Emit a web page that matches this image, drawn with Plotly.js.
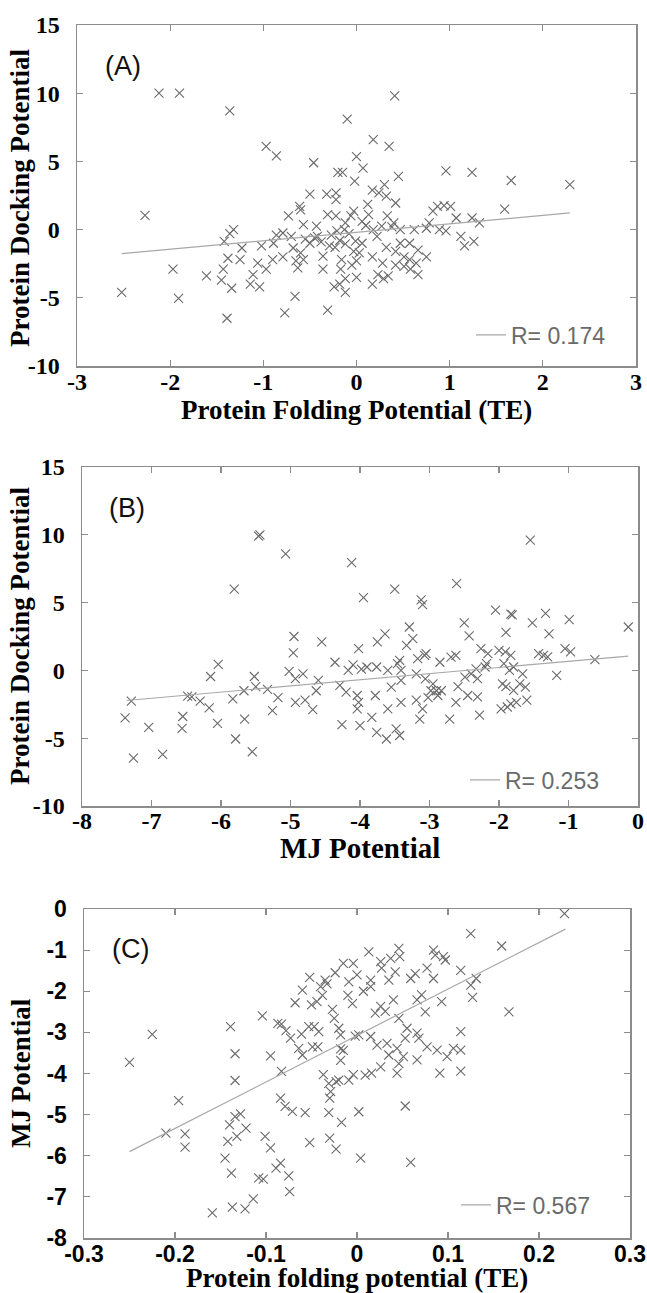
<!DOCTYPE html>
<html>
<head>
<meta charset="utf-8">
<script src="https://cdn.plot.ly/plotly-3.0.1.min.js"></script>
<style>
  html, body { margin: 0; padding: 0; background: #fff; }
  #chart { width: 647px; height: 1293px; }
</style>
</head>
<body>
<div id="chart"></div>
<script>
const aX = [-2.12,-1.90,-1.36,-0.97,-0.86,-0.46,-2.27,-2.52,-1.97,-1.91,-1.39,-1.61,-1.45,-1.43,-1.34,-1.42,-1.32,-1.36,-1.38,-1.23,-1.25,-1.14,-1.04,-1.11,-1.06,-1.02,-0.97,-0.90,-0.89,-0.86,-0.79,-0.73,-0.79,-0.68,-0.66,-0.77,-0.61,-0.60,-0.57,-0.50,-0.63,-0.57,-0.60,-0.50,-0.43,-0.42,-0.36,-0.31,-0.32,-0.31,-0.29,-0.24,-0.22,-0.20,-0.36,
  0.41,-0.10,0.18,0.35,0.00,0.07,-0.15,-0.02,0.45,0.96,1.24,1.66,2.29,1.59,0.17,0.24,0.30,0.32,-0.22,0.12,0.42,0.87,0.94,1.01,0.82,0.78,0.89,0.96,1.07,1.24,1.32,1.12,1.16,1.26,0.62,0.75,0.57,0.66,0.75,0.64,0.57,0.51,0.51,0.58,0.66,0.42,0.34,0.29,0.17,0.28,0.17,0.32,0.42,0.47,0.47,0.40,0.33,0.27,0.18,0.22,0.13,0.06,0.06,0.03,0.00,-0.03,-0.01,-0.12,-0.16,-0.17,-0.12,-0.12,0.00,-0.18,-0.22,-0.12,-0.06,-0.03,-0.21,-0.13,-0.23,
  -0.45,-0.38,-0.27,-0.18,-0.08,0.10,0.38,-0.55,-0.70,-0.65,-0.05,0.23];
const aY = [10.0,10.0,8.7,6.1,5.4,4.9,1.05,-4.6,-2.9,-5.05,-6.5,-3.4,-3.7,-2.9,-4.3,-0.86,0.0,-0.3,-2.1,-1.35,-2.2,-4.0,-4.2,-3.3,-2.45,-1.2,-2.9,-2.2,-1.0,-0.4,-0.25,1.0,-2.0,-1.35,-4.9,-6.1,1.7,1.45,0.37,2.6,-2.8,-2.2,-1.7,-1.0,0.25,-0.5,-2.9,-5.9,2.6,1.1,-1.2,-4.2,2.7,4.2,-1.95,
  9.8,8.1,6.6,6.1,5.35,4.5,4.2,3.55,3.9,4.3,4.2,3.6,3.3,1.5,2.9,2.7,3.3,2.45,2.2,1.85,1.95,1.7,1.75,1.7,1.35,0.5,0.0,-0.1,0.85,0.85,0.5,-0.5,-1.2,-0.86,0.0,0.1,-1.0,-1.5,-2.0,-2.45,-2.2,-2.0,-2.7,-2.9,-3.3,-2.6,-3.4,-3.6,-4.0,-2.45,-2.0,-1.3,-1.6,-1.0,0.0,0.5,1.0,0.25,0.0,-0.5,1.1,0.6,-1.0,-1.7,-2.3,-1.6,-0.85,-1.05,-2.2,-2.9,-3.6,-4.6,-3.5,-4.0,1.0,0.5,1.0,1.35,-0.1,0.0,-1.3,
  -0.6,-0.9,-0.4,-0.8,-0.3,0.3,0.2,-0.7,-0.5,-2.3,-2.6,-3.3];
const aFitX = [-2.52, 2.29];
const aFitY = [-1.76, 1.22];
const aLabel = 'R= 0.174';

const bX = [-5.46,-5.44,-5.07,-5.81,-4.12,-4.95,-4.96,-4.55,-4.36,-6.04,-6.15,-5.02,-4.93,-4.82,-5.52,-5.50,-5.67,-5.33,-5.18,-5.26,-4.93,-4.79,-4.68,-4.60,-4.63,-5.83,-6.05,-6.17,-6.30,-6.48,-6.42,-6.55,-6.56,-5.66,-5.79,-5.55,-6.84,-7.04,-7.38,-7.29,-7.26,-4.26,-4.29,-4.20,-4.17,-4.10,
  -1.55,-2.61,-3.50,-3.95,-3.12,-3.10,-2.05,-1.83,-1.81,-1.33,-0.99,-0.14,-2.50,-1.52,-1.90,-1.28,-2.43,-3.29,-3.24,-3.64,-3.75,-3.33,-4.02,-3.05,-3.07,-3.17,-2.69,-2.62,-2.85,-2.26,-2.16,-2.00,-1.91,-1.83,-1.43,-1.36,-1.30,-1.05,-0.97,-0.62,-1.17,-3.43,-3.46,-3.60,-3.76,-3.90,-3.98,-3.41,-3.19,-3.41,-3.06,-2.95,-2.90,-2.83,-2.88,-2.98,-3.02,-3.19,-3.10,-3.14,-3.41,-3.55,-3.60,-3.83,-4.00,-3.76,-3.62,-3.48,-3.43,-3.78,-4.04,-4.02,-4.04,-2.71,-2.62,-2.59,-2.49,-2.33,-2.40,-2.31,-2.20,-2.18,-2.45,-2.31,-2.28,-1.95,-1.90,-1.97,-1.88,-1.83,-1.75,-1.79,-1.70,-1.66,-1.62,-1.60,-1.79,-1.85,-1.93];
const bY = [9.9,10.0,8.6,6.0,7.95,2.5,1.3,2.1,0.6,0.45,-0.45,-0.07,-0.6,-0.25,-0.45,-1.2,-1.5,-1.4,-2.0,-2.96,-2.35,-2.2,-2.9,-0.74,-1.5,-2.1,-3.9,-2.76,-2.27,-1.9,-1.95,-3.4,-4.27,-3.6,-5.06,-6.0,-6.2,-4.2,-3.5,-2.27,-6.47,-4.0,-1.1,-1.6,0.0,0.4,
  9.6,6.4,6.0,5.36,5.2,4.85,4.44,4.15,4.1,4.2,3.75,3.2,3.5,3.5,2.8,2.7,2.55,3.2,2.35,2.7,2.1,1.85,1.6,1.23,1.1,0.87,0.98,1.1,0.6,1.6,1.23,1.48,1.36,1.1,1.23,1.1,1.0,1.6,1.36,0.8,-0.37,0.74,0.5,0.0,0.25,0.25,0.1,0.0,-0.25,-0.74,-0.62,-1.0,-1.5,-1.5,-1.85,-1.5,-2.0,-2.2,-2.84,-3.6,-2.35,-1.23,-2.84,-3.46,-4.07,-4.57,-5.06,-4.32,-4.8,-1.85,-1.85,-2.35,-2.84,-3.6,-2.35,-1.2,-0.49,0.12,-0.25,-0.6,0.25,0.5,-1.85,-1.95,-3.3,-1.0,-1.2,-2.84,-2.7,-2.47,-2.35,-1.48,-1.0,-0.25,-1.23,-2.2,0.25,0.0,0.5];
const bFitX = [-7.36, -0.14];
const bFitY = [-2.22, 1.06];
const bLabel = 'R= 0.253';

const cX = [-0.250,-0.225,-0.196,-0.210,-0.189,-0.189,-0.159,-0.137,-0.123,-0.114,-0.145,-0.138,-0.142,-0.140,-0.134,-0.128,-0.132,-0.122,-0.139,-0.134,-0.134,-0.104,-0.095,-0.083,-0.101,-0.095,-0.108,-0.103,-0.089,-0.084,-0.075,-0.074,-0.084,-0.079,-0.071,-0.057,-0.052,-0.031,-0.030,-0.023,-0.017,-0.030,-0.029,-0.087,-0.083,-0.078,-0.073,-0.061,-0.068,-0.060,-0.052,-0.050,-0.044,-0.035,-0.033,-0.040,-0.024,-0.015,-0.004,-0.009,-0.027,-0.025,-0.053,-0.047,-0.042,-0.049,-0.043,-0.064,-0.060,-0.018,-0.002,-0.018,-0.015,-0.018,-0.020,-0.023,-0.009,-0.004,-0.037,-0.031,0.002,0.004,
  0.228,0.125,0.159,0.167,0.127,0.125,0.131,0.114,0.114,0.114,0.114,0.106,0.099,0.088,0.091,0.093,0.084,0.086,0.095,0.097,0.077,0.084,0.071,0.075,0.066,0.064,0.059,0.046,0.047,0.037,0.026,0.013,0.027,0.042,0.035,0.015,0.015,0.007,0.040,0.026,0.020,0.031,0.046,0.055,0.066,0.068,0.077,0.053,0.044,0.033,0.035,0.022,0.015,0.002,0.051,0.046,0.044,0.026,0.016,0.009,0.066,0.053,0.059,
  -0.010,-0.020,-0.005,0.000,-0.038];
const cY = [-3.73,-3.05,-4.66,-5.45,-5.47,-5.79,-7.39,-7.25,-7.29,-7.05,-6.06,-6.42,-5.65,-5.25,-5.05,-4.98,-5.53,-5.33,-2.86,-3.52,-4.17,-2.6,-3.57,-3.95,-5.53,-5.81,-6.54,-6.57,-6.3,-6.18,-6.49,-6.87,-4.6,-4.8,-4.92,-4.95,-5.68,-4.95,-5.57,-5.84,-5.19,-4.6,-4.44,-2.78,-2.8,-2.96,-3.14,-3.04,-2.28,-1.97,-1.66,-2.33,-2.25,-1.73,-1.82,-1.89,-1.55,-1.32,-1.32,-1.77,-2.44,-2.66,-2.86,-2.86,-2.98,-3.35,-3.35,-3.39,-3.55,-3.06,-3.09,-3.4,-3.44,-3.68,-4.16,-4.2,-4.16,-4.03,-4.03,-4.24,-4.93,-6.06,
  -0.11,-0.6,-0.9,-2.5,-2.15,-1.85,-1.69,-1.49,-2.98,-3.43,-3.94,-3.39,-3.59,-3.43,-3.99,-2.25,-1.0,-1.12,-1.16,-1.24,-1.44,-1.69,-2.09,-2.5,-2.21,-1.57,-1.69,-0.96,-1.16,-1.2,-1.28,-1.04,-1.44,-1.53,-1.73,-1.73,-1.89,-2.0,-2.21,-2.37,-2.53,-2.49,-2.66,-2.9,-3.02,-3.14,-3.35,-3.14,-3.39,-3.27,-3.55,-3.31,-3.1,-3.06,-3.59,-3.76,-3.99,-3.84,-3.99,-4.04,-3.67,-4.79,-6.16,
  -2.1,-2.9,-2.3,-1.6,-2.1];
const cFitX = [-0.250, 0.229];
const cFitY = [-5.9, -0.49];
const cLabel = 'R= 0.567';

const aXTicks = [-3,-2,-1,0,1,2,3];
const aXText = ['-3','-2','-1','0','1','2','3'];
const dockTicks = [-10,-5,0,5,10,15];
const dockText = ['-10','-5','0','5','10','15'];
const bXTicks = [-8,-7,-6,-5,-4,-3,-2,-1,0];
const bXText = ['-8','-7','-6','-5','-4','-3','-2','-1','0'];
const cXTicks = [-0.3,-0.2,-0.1,0,0.1,0.2,0.3];
const cXText = ['-0.3','-0.2','-0.1','0','0.1','0.2','0.3'];
const cYTicks = [-8,-7,-6,-5,-4,-3,-2,-1,0];
const cYText = ['-8','-7','-6','-5','-4','-3','-2','-1','0'];

const W = 647, H = 1293;
const SERIF = 'Liberation Serif';
const SANS = 'Liberation Sans';
const markerStyle = { symbol: 'x-thin-open', size: 9, color: '#6a6a6a', line: { color: '#6a6a6a', width: 1.1 } };
const fitLine = { color: '#a8a8a8', width: 1.2 };

const boxA = [77, 636, 25, 366];
const boxB = [82, 638, 467, 806];
const boxC = [84, 630, 909, 1238];
const xd = b => [b[0] / W, b[1] / W];
const yd = b => [1 - b[3] / H, 1 - b[2] / H];

function axis(domain, range, tv, tt, anchor, fam, standoff, size) {
  return {
    domain: domain, range: range, anchor: anchor,
    tickmode: 'array', tickvals: tv, ticktext: tt,
    showline: true, linecolor: '#8c8c8c', linewidth: 1.5, mirror: 'ticks',
    ticks: 'inside', ticklen: 6, tickwidth: 1.2, tickcolor: '#8c8c8c',
    showgrid: false, zeroline: false, fixedrange: true,
    ticklabelstandoff: standoff,
    tickfont: { family: fam, size: size, color: '#000', weight: 'bold' }
  };
}

const traces = [
  { x: aX, y: aY, xaxis: 'x', yaxis: 'y', type: 'scatter', mode: 'markers', marker: markerStyle, showlegend: false, hoverinfo: 'skip' },
  { x: aFitX, y: aFitY, xaxis: 'x', yaxis: 'y', type: 'scatter', mode: 'lines', line: fitLine, name: aLabel, legend: 'legend' },
  { x: bX, y: bY, xaxis: 'x2', yaxis: 'y2', type: 'scatter', mode: 'markers', marker: markerStyle, showlegend: false, hoverinfo: 'skip' },
  { x: bFitX, y: bFitY, xaxis: 'x2', yaxis: 'y2', type: 'scatter', mode: 'lines', line: fitLine, name: bLabel, legend: 'legend2' },
  { x: cX, y: cY, xaxis: 'x3', yaxis: 'y3', type: 'scatter', mode: 'markers', marker: markerStyle, showlegend: false, hoverinfo: 'skip' },
  { x: cFitX, y: cFitY, xaxis: 'x3', yaxis: 'y3', type: 'scatter', mode: 'lines', line: fitLine, name: cLabel, legend: 'legend3' }
];

function legendAt(leftPx, centerPx) {
  return {
    x: leftPx / W, y: 1 - centerPx / H, xanchor: 'left', yanchor: 'middle',
    bgcolor: 'rgba(0,0,0,0)', borderwidth: 0,
    font: { family: SANS, size: 23, color: '#6a6a6a', weight: 'normal' }
  };
}
function title(text, xPx, yPx, size, angle) {
  return {
    text: text, xref: 'paper', yref: 'paper', x: xPx / W, y: 1 - yPx / H,
    xanchor: 'center', yanchor: 'middle', showarrow: false, textangle: angle || 0,
    font: { family: SERIF, size: size, color: '#000', weight: 'bold' }
  };
}
function panelLabel(text, xPx, yPx) {
  return {
    text: text, xref: 'paper', yref: 'paper', x: xPx / W, y: 1 - yPx / H,
    xanchor: 'center', yanchor: 'middle', showarrow: false,
    font: { family: SANS, size: 27, color: '#111', weight: 'normal' }
  };
}

const layout = {
  width: W, height: H,
  margin: { l: 0, r: 0, t: 0, b: 0 },
  paper_bgcolor: '#fff', plot_bgcolor: '#fff',
  font: { family: SERIF, size: 22, color: '#000' },
  showlegend: true,
  xaxis: axis(xd(boxA), [-3, 3], aXTicks, aXText, 'y', SERIF, -6, 24),
  yaxis: axis(yd(boxA), [-10, 15], dockTicks, dockText, 'x', SERIF, 11, 24),
  xaxis2: axis(xd(boxB), [-8, 0], bXTicks, bXText, 'y2', SERIF, -7, 24),
  yaxis2: axis(yd(boxB), [-10, 15], dockTicks, dockText, 'x2', SERIF, 11, 24),
  xaxis3: axis(xd(boxC), [-0.3, 0.3], cXTicks, cXText, 'y3', SANS, -5, 23),
  yaxis3: axis(yd(boxC), [-8, 0], cYTicks, cYText, 'x3', SANS, 11, 23),
  legend: legendAt(471, 335),
  legend2: legendAt(465, 780),
  legend3: legendAt(456, 1205),
  annotations: [
    panelLabel('(A)', 123, 66),
    panelLabel('(B)', 127, 508),
    panelLabel('(C)', 130, 949),
    title('Protein Folding Potential (TE)', 356, 410, 27, 0),
    title('Protein Docking Potential', 20, 198, 27, -90),
    title('MJ Potential', 360, 848, 29, 0),
    title('Protein Docking Potential', 20, 636, 27, -90),
    title('Protein folding potential (TE)', 357, 1278, 27, 0),
    title('MJ Potential', 21, 1073, 27, -90)
  ]
};

Plotly.newPlot('chart', traces, layout, { staticPlot: true, displayModeBar: false });
</script>
</body>
</html>
